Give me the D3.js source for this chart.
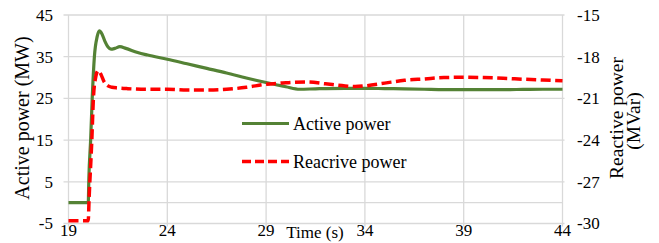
<!DOCTYPE html>
<html lang="en">
<head>
  <meta charset="utf-8">
  <script src="https://d3js.org/d3.v7.min.js"></script>
  <style>
    body { margin: 0; background: #fff; }
    text { font-family: "Liberation Serif", "Times New Roman", serif; fill: #000; }
  </style>
</head>
<body>
<script>
// values
var xTicks = [19, 24, 29, 34, 39, 44];
var leftTicks = [-5, 5, 15, 25, 35, 45];
var rightTicks = [-30, -27, -24, -21, -18, -15];

// active power (MW), left axis
var activeTime = [19, 20.0, 20.03, 20.12, 20.2, 20.31, 20.45, 20.56, 20.7, 20.85, 21.0, 21.15, 21.35, 21.6, 21.9, 22.5, 23, 24, 25, 26, 27, 28, 29, 30, 30.7, 31.5, 32, 33, 34, 35, 36, 37, 38, 39, 40, 41, 42, 43, 44];
var activePower = [0, 0, 5.8, 15, 25, 35, 39.8, 41.2, 40.4, 38.6, 37.3, 36.8, 37.0, 37.4, 37.0, 36.0, 35.4, 34.4, 33.3, 32.2, 31.1, 29.9, 28.8, 27.8, 27.2, 27.3, 27.35, 27.4, 27.4, 27.35, 27.3, 27.2, 27.1, 27.1, 27.1, 27.1, 27.15, 27.2, 27.2];

// reactive power (MVar), right axis
var reactTime = [19, 20.0, 20.04, 20.18, 20.26, 20.36, 20.5, 20.65, 20.8, 21.0, 21.2, 21.5, 22, 23, 24, 25, 26, 27, 28, 29, 30, 31.1, 32, 33, 33.5, 34, 35, 36, 37, 38, 39, 40, 41, 42, 43, 44];
var reactPower = [-29.8, -29.8, -28.3, -24, -21, -19.6, -19.0, -19.3, -19.8, -20.1, -20.2, -20.25, -20.3, -20.35, -20.35, -20.4, -20.4, -20.35, -20.2, -19.98, -19.88, -19.82, -19.95, -20.1, -20.15, -20.1, -19.9, -19.7, -19.6, -19.5, -19.48, -19.5, -19.55, -19.62, -19.68, -19.73];

var width = 659, height = 243;
var pLeft = 68.5, pRight = 562.5, pTop = 15, pBottom = 223.5;

var svg = d3.select("body").append("svg")
  .attr("width", width)
  .attr("height", height);

var x = d3.scaleLinear().domain([19, 44]).range([pLeft, pRight]);
var yL = d3.scaleLinear().domain([-5, 45]).range([pBottom, pTop]);
var yR = d3.scaleLinear().domain([-30, -15]).range([pBottom, pTop]);

var grid = "#d9d9d9";

// horizontal gridlines (with small outside ticks on the left)
svg.append("g").selectAll("line")
  .data(leftTicks).enter().append("line")
  .attr("x1", pLeft - 5).attr("x2", pRight + 2)
  .attr("y1", function (d) { return yL(d); })
  .attr("y2", function (d) { return yL(d); })
  .attr("stroke", grid).attr("stroke-width", 1.3);

// vertical gridlines
svg.append("g").selectAll("line")
  .data(xTicks).enter().append("line")
  .attr("x1", function (d) { return x(d); })
  .attr("x2", function (d) { return x(d); })
  .attr("y1", pTop).attr("y2", pBottom + 3)
  .attr("stroke", grid).attr("stroke-width", 1.3);

// axis line at zero
svg.append("line")
  .attr("x1", pLeft).attr("x2", pRight)
  .attr("y1", yL(0)).attr("y2", yL(0))
  .attr("stroke", grid).attr("stroke-width", 1.3);

// tick labels
svg.append("g").selectAll("text")
  .data(leftTicks).enter().append("text")
  .attr("x", 53).attr("y", function (d) { return yL(d); })
  .attr("dy", "0.35em").attr("text-anchor", "end")
  .style("font-size", "17px")
  .text(function (d) { return d; });

svg.append("g").selectAll("text")
  .data(rightTicks).enter().append("text")
  .attr("x", 577).attr("y", function (d) { return yR(d); })
  .attr("dy", "0.35em").attr("text-anchor", "start")
  .style("font-size", "17px")
  .text(function (d) { return d; });

svg.append("g").selectAll("text")
  .data(xTicks).enter().append("text")
  .attr("x", function (d) { return x(d); }).attr("y", 236)
  .attr("text-anchor", "middle")
  .style("font-size", "17px")
  .text(function (d) { return d; });

// axis titles
svg.append("text")
  .attr("transform", "translate(29,118) rotate(-90)")
  .attr("text-anchor", "middle")
  .style("font-size", "20px")
  .text("Active power (MW)");

svg.append("text")
  .attr("transform", "translate(623,118) rotate(-90)")
  .attr("text-anchor", "middle")
  .style("font-size", "19.5px")
  .text("Reactive power");

svg.append("text")
  .attr("transform", "translate(640,121) rotate(-90)")
  .attr("text-anchor", "middle")
  .style("font-size", "19.5px")
  .text("(MVar)");

svg.append("text")
  .attr("x", 315).attr("y", 238)
  .attr("text-anchor", "middle")
  .style("font-size", "17px")
  .text("Time (s)");

// series
var activeLine = d3.line()
  .x(function (d, i) { return x(activeTime[i]); })
  .y(function (d) { return yL(d); })
  .curve(d3.curveMonotoneX);

var reactLine = d3.line()
  .x(function (d, i) { return x(reactTime[i]); })
  .y(function (d) { return yR(d); })
  .curve(d3.curveMonotoneX);

svg.append("path")
  .datum(activePower)
  .attr("d", activeLine)
  .attr("fill", "none")
  .attr("stroke", "#548235")
  .attr("stroke-width", 3.2);

svg.append("path")
  .datum(reactPower)
  .attr("d", reactLine)
  .attr("fill", "none")
  .attr("stroke", "#ff0000")
  .attr("stroke-width", 3.5)
  .attr("stroke-dasharray", "10,4.5");

// legend
var legend = svg.append("g");
legend.append("line")
  .attr("x1", 242).attr("x2", 289).attr("y1", 123.5).attr("y2", 123.5)
  .attr("stroke", "#548235").attr("stroke-width", 3.2);
legend.append("text")
  .attr("x", 293).attr("y", 123.5).attr("dy", "0.35em")
  .style("font-size", "18px")
  .text("Active power");
legend.append("line")
  .attr("x1", 242).attr("x2", 289).attr("y1", 161.5).attr("y2", 161.5)
  .attr("stroke", "#ff0000").attr("stroke-width", 3.5)
  .attr("stroke-dasharray", "9,4");
legend.append("text")
  .attr("x", 293).attr("y", 161.5).attr("dy", "0.35em")
  .style("font-size", "18px")
  .text("Reacrive power");
</script>
</body>
</html>
